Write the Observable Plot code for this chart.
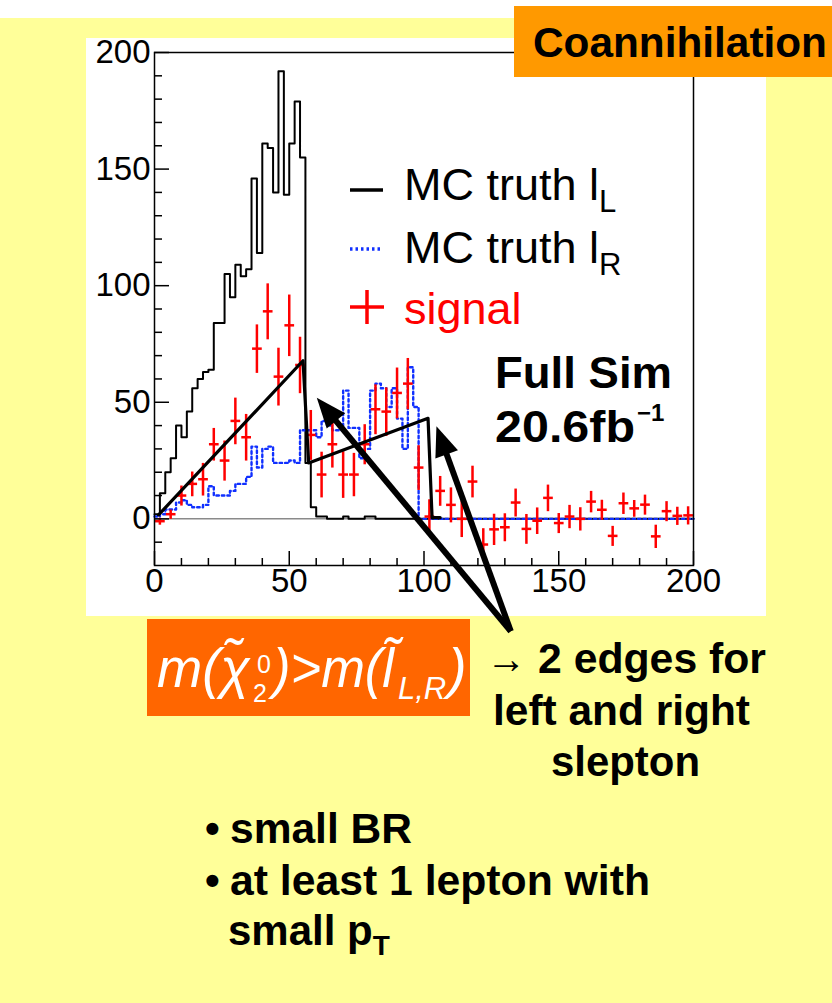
<!DOCTYPE html>
<html><head><meta charset="utf-8">
<script src="https://cdn.jsdelivr.net/npm/d3@7"></script>
<script src="https://cdn.jsdelivr.net/npm/@observablehq/plot@0.6"></script>
<style>
body{margin:0;width:832px;height:1003px;position:relative;background:#fff;overflow:hidden;font-family:"Liberation Sans",Arial,sans-serif}
#yellow{position:absolute;left:0;top:18px;width:832px;height:985px;background:#ffff99}
#white{position:absolute;left:86px;top:38px;width:680px;height:578px;background:#fff}
#chart{position:absolute;left:86px;top:38px}
#overlay{position:absolute;left:0;top:0}
</style></head><body>
<div id="yellow"></div><div id="white"></div><div id="chart"></div>
<svg id="overlay" width="832" height="1003"></svg>
<script>
// ---- data ----
const binWidth = 2;
const mcTruthL = [2,11,20,26,40,35,46,56,60,63,64,84,84,105,95,109,104,107,146,114,
  161,159,140,192,139,161,179,155,24,5,1,1,0,0,0,1,0,0,0,1,
  1,0,0,0,0,0,0,0,0,0,0,0,0,0,0,0,0,0,0,0,
  0,0,0,0,0,0,0,0,0,0,0,0,0,0,0,0,0,0,0,0,
  0,0,0,0,0,0,0,0,0,0,0,0,0,0,0,0,0,0,0,0];
const mcTruthR = [1,2,4,4,7,8,6,5,5,6,14,10,10,10,12,15,15,18,31,22,
  30,31,24,24,24,25,24,38,38,38,35,42,40,38,38,55,39,39,26,30,
  55,58,56,48,56,43,30,65,48,0,0,0,0,0,0,0,0,0,0,0,
  0,0,0,0,0,0,0,0,0,0,0,0,0,0,0,0,0,0,0,0,
  0,0,0,0,0,0,0,0,0,0,0,0,0,0,0,0,0,0,0,0];
const signalWidth = 4;
const signalValues = [-1,2,10,15,17,32,25,42,35,73,89,61,83,66,
  36,19,32,19,19,32,47,46,54,58,22,
  1,12,6,0,16,-11,-4.5,-3.6,7,-4.3,-0.8,9,-1.8,1,0,7.4,3.9,-7.3,6.7,4.5,6.1,-7.5,3.3,1.3,1.5];
const signalErrors = [1.5,2,4.3,5.3,7,7,8.6,10,10,10.4,12,12.4,13.2,12.1,
  10.7,9.8,10,10,9.3,8.6,10.7,10.4,10.9,11,9.6,
  7.4,6.4,7.5,7.8,6.8,7,6.7,6,6,6.4,5.7,5.7,4.3,5,5,4.6,4.3,4.3,4.6,3.6,4.3,5,4.3,3.9,3.9];
// hand-drawn edge annotation (x, y in data units)
const edgeX = [1.5, 55.1, 57.2, 101.5, 103, 106];
const edgeY = [1.7, 67.8, 24, 43.1, 0.5, 0.5];
// annotation arrows: common tail, two tips (data units)
const arrowTail = [132.4, -48.4];
const arrowTips = [[60.4, 51.7], [104.8, 39.5]];
const xMajor = [0, 50, 100, 150, 200];
const xMinor = [10,20,30,40,60,70,80,90,110,120,130,140,160,170,180,190];
const yMajor = [0, 50, 100, 150, 200];
const yMinor = [-10,10,20,30,40,60,70,80,90,110,120,130,140,160,170,180,190];

// ---- build tables ----
const steps = vals => vals.map((v, i) => ({x: i * binWidth, y: v}))
  .concat([{x: vals.length * binWidth, y: vals[vals.length - 1]}]);
const blackSteps = steps(mcTruthL);
const blueSteps = steps(mcTruthR);
const signal = signalValues.map((v, i) => ({x: signalWidth * i + signalWidth / 2, y: v, e: signalErrors[i]}));
const edge = edgeX.map((x, i) => ({x, y: edgeY[i]}));

const W = 680, H = 578, mL = 68, mR = 73, mT = 14, mB = 51;
const frameW = W - mL - mR, frameH = H - mT - mB;
const tickFont = "'Liberation Sans',Arial,sans-serif";

const plot = Plot.plot({
  width: W, height: H,
  marginLeft: mL, marginRight: mR, marginTop: mT, marginBottom: mB,
  x: {domain: [0, 200]},
  y: {domain: [-20, 200]},
  style: {background: "transparent", overflow: "visible", color: "black"},
  marks: [
    Plot.ruleY([0], {stroke: "#8a8a8a", strokeWidth: 1.5}),
    Plot.line(blackSteps, {x: "x", y: "y", curve: "step-after", stroke: "black", strokeWidth: 2}),
    Plot.line(blueSteps, {x: "x", y: "y", curve: "step-after", stroke: "#1030ff", strokeWidth: 2.4, strokeDasharray: "2.5,3"}),
    Plot.link(signal, {x1: d => d.x - 1.8, x2: d => d.x + 1.8, y1: "y", y2: "y", stroke: "#ff0000", strokeWidth: 2.5}),
    Plot.link(signal, {x1: "x", x2: "x", y1: d => d.y - d.e, y2: d => d.y + d.e, stroke: "#ff0000", strokeWidth: 2.5}),
    Plot.line(edge, {x: "x", y: "y", stroke: "black", strokeWidth: 3.2}),
    Plot.tickX(xMajor, {x: d => d, insetTop: frameH - 14, stroke: "black", strokeWidth: 1.5}),
    Plot.tickX(xMinor, {x: d => d, insetTop: frameH - 7, stroke: "black", strokeWidth: 1.5}),
    Plot.tickY(yMajor, {y: d => d, insetRight: frameW - 15, stroke: "black", strokeWidth: 1.5}),
    Plot.tickY(yMinor, {y: d => d, insetRight: frameW - 8, stroke: "black", strokeWidth: 1.5}),
    Plot.frame({stroke: "black", strokeWidth: 1.5}),
    Plot.axisX(xMajor, {tickSize: 0, tickPadding: 3, fontSize: 33, fontFamily: tickFont, label: null}),
    Plot.axisY(yMajor, {tickSize: 0, tickPadding: 4, fontSize: 33, fontFamily: tickFont, label: null})
  ]
});
document.getElementById("chart").appendChild(plot);

// ---- overlay: arrows (through the plot's scales) and slide text ----
const X = plot.scale("x"), Y = plot.scale("y");
const ox = 86, oy = 38;
const px = v => ox + X.apply(v), py = v => oy + Y.apply(v);
const svg = d3.select("#overlay");
const tx = px(arrowTail[0]), ty = py(arrowTail[1]);
for (const [ax, ay] of arrowTips) {
  const hx = px(ax), hy = py(ay);
  const dx = hx - tx, dy = hy - ty, len = Math.hypot(dx, dy);
  const ux = dx / len, uy = dy / len, L = 30, Wd = 24;
  const bx = hx - ux * L, by = hy - uy * L;
  svg.append("line").attr("x1", tx).attr("y1", ty).attr("x2", bx + ux * 2).attr("y2", by + uy * 2)
    .attr("stroke", "black").attr("stroke-width", 6);
  svg.append("polygon").attr("points",
    `${hx},${hy} ${bx - uy * Wd / 2},${by + ux * Wd / 2} ${bx + uy * Wd / 2},${by - ux * Wd / 2}`)
    .attr("fill", "black");
}

const FONT = "'Liberation Sans',Arial,sans-serif";
function txt(x, y, s, o = {}) {
  const t = svg.append("text").attr("x", x).attr("y", y)
    .attr("font-size", o.size || 42).attr("fill", o.fill || "black")
    .attr("font-weight", o.weight || "normal").attr("font-style", o.style || "normal")
    .attr("font-family", FONT);
  if (s) t.text(s);
  if (o.len) t.attr("textLength", o.len).attr("lengthAdjust", "spacingAndGlyphs");
  return t;
}
function span(t, s, o = {}) {
  const e = t.append("tspan").text(s);
  for (const k of ["x", "y", "dx", "dy"]) if (o[k] != null) e.attr(k, o[k]);
  if (o.size) e.attr("font-size", o.size);
  if (o.weight) e.attr("font-weight", o.weight);
  if (o.style) e.attr("font-style", o.style);
  if (o.len) e.attr("textLength", o.len).attr("lengthAdjust", "spacingAndGlyphs");
  return e;
}

// legend
svg.append("line").attr("x1", 350).attr("x2", 383).attr("y1", 190).attr("y2", 190).attr("stroke", "black").attr("stroke-width", 3.5);
svg.append("line").attr("x1", 350).attr("x2", 383).attr("y1", 249).attr("y2", 249).attr("stroke", "#1030ff").attr("stroke-width", 3.5).attr("stroke-dasharray", "2.5,3");
svg.append("line").attr("x1", 350).attr("x2", 384).attr("y1", 307).attr("y2", 307).attr("stroke", "red").attr("stroke-width", 3.5);
svg.append("line").attr("x1", 367).attr("x2", 367).attr("y1", 290).attr("y2", 324).attr("stroke", "red").attr("stroke-width", 3.5);
const l1 = txt(404, 200, "MC truth l", {size: 45});
span(l1, "L", {size: 31, dy: 12});
const l2 = txt(404, 263, "MC truth l", {size: 45});
span(l2, "R", {size: 31, dy: 12});
txt(404, 324, "signal", {size: 45, fill: "red"});

// Full Sim
txt(495, 388, "Full Sim", {weight: "bold", size: 44, len: 177});
const fs = txt(495, 442, null, {weight: "bold", size: 44});
span(fs, "20.6fb", {len: 140});
span(fs, "\u22121", {x: 637, y: 421, size: 24});

// title box
svg.append("rect").attr("x", 514).attr("y", 6).attr("width", 318).attr("height", 71).attr("fill", "#ff9900");
txt(533, 57, "Coannihilation", {weight: "bold", size: 42, len: 294});

// formula box
svg.append("rect").attr("x", 147).attr("y", 619).attr("width", 323).attr("height", 97).attr("fill", "#ff6600");
const fo = txt(157, 687, null, {fill: "white", style: "italic", size: 56});
span(fo, "m(\u03c7\u0303", {x: 157, y: 687, len: 93});
span(fo, "0", {x: 257, y: 673, size: 25, style: "normal"});
span(fo, "2", {x: 253, y: 702, size: 25, style: "normal"});
span(fo, ")>m(l\u0303", {x: 273, y: 687, len: 121});
span(fo, "L,R", {x: 398, y: 699, size: 31});
span(fo, ")", {x: 448, y: 687});

// edges text
const e1 = txt(486, 673, null, {weight: "bold"});
span(e1, "\u2192", {weight: "normal", len: 40});
span(e1, "2 edges for", {x: 538, len: 228});
txt(493, 725, "left and right", {weight: "bold", len: 257});
txt(551, 776, "slepton", {weight: "bold", len: 149});

// bullets
const b1 = txt(205, 843, null, {weight: "bold"});
span(b1, "\u2022");
span(b1, "small BR", {x: 230, len: 182});
const b2 = txt(205, 895, null, {weight: "bold"});
span(b2, "\u2022");
span(b2, "at least 1 lepton with", {x: 230, len: 420});
const sp = txt(228, 945, "small p", {weight: "bold"});
span(sp, "T", {size: 28, dy: 10});
</script>
</body></html>
